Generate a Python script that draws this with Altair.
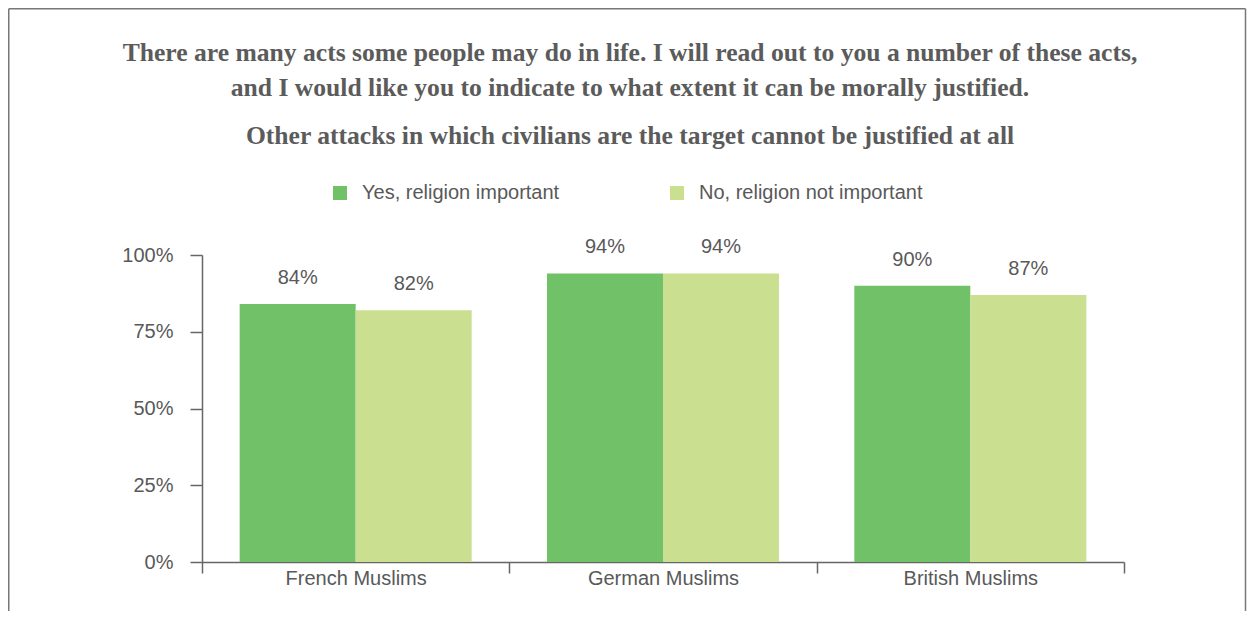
import altair as alt
import pandas as pd

countries = ["French Muslims", "German Muslims", "British Muslims"]
groups = ["Yes, religion important", "No, religion not important"]
yes_vals = [0.84, 0.94, 0.90]
no_vals = [0.82, 0.94, 0.87]
colors = ["#70c168", "#cadf8f"]

rows = []
for c, y, n in zip(countries, yes_vals, no_vals):
    rows.append({"country": c, "group": groups[0], "value": y})
    rows.append({"country": c, "group": groups[1], "value": n})
df = pd.DataFrame(rows)

TXT = "#595959"
SANS = "Liberation Sans"
SERIF = "Liberation Serif"
FS = 20

x = alt.X("country:N", sort=countries, title=None,
          scale=alt.Scale(paddingInner=0, paddingOuter=0),
          axis=alt.Axis(labelAngle=0, tickBand="extent", tickSize=11,
                        tickColor="#666", domainColor="#666", tickWidth=1.5,
                        domainWidth=1.5, labelFont=SANS, labelFontSize=FS,
                        labelColor=TXT, labelPadding=-5))
y = alt.Y("value:Q", title=None,
          scale=alt.Scale(domain=[0, 1], nice=False),
          axis=alt.Axis(values=[0, 0.25, 0.5, 0.75, 1], format=".0%", grid=False,
                        tickSize=12, tickColor="#666", domainColor="#666",
                        tickWidth=1.5, domainWidth=1.5, labelFont=SANS,
                        labelFontSize=FS, labelColor=TXT, labelPadding=17))

color = alt.Color("group:N", sort=groups,
                  scale=alt.Scale(domain=groups, range=colors),
                  legend=alt.Legend(title=None, orient="none", direction="horizontal",
                                    legendX=128, legendY=-72, symbolType="square",
                                    symbolSize=196, symbolStrokeWidth=0, labelLimit=400,
                                    labelFont=SANS, labelFontSize=FS,
                                    labelColor=TXT, labelOffset=12, columnPadding=107))

xoff = alt.XOffset("group:N", sort=groups,
                   scale=alt.Scale(paddingInner=0, paddingOuter=0.3245))

base = alt.Chart(df).encode(x=x, xOffset=xoff)

bars = base.mark_bar().encode(y=y, color=color)
labels = base.mark_text(dy=-26, font=SANS, fontSize=FS, color=TXT).encode(
    y=alt.Y("value:Q"), text=alt.Text("value:Q", format=".0%"))

frame = alt.Chart(alt.Data(values=[{}]))
left = frame.mark_rule(color="#777", strokeWidth=1.5).encode(
    x=alt.value(-193.25), y=alt.value(-246.25), y2=alt.value(400))
top = frame.mark_rule(color="#777", strokeWidth=1.5).encode(
    x=alt.value(-193.25), x2=alt.value(1043.5), y=alt.value(-246.25))
right = frame.mark_rule(color="#777", strokeWidth=1.5).encode(
    x=alt.value(1043.5), y=alt.value(-246.25), y2=alt.value(400))

chart = alt.layer(bars, labels, left, top, right).properties(
    width=922, height=307,
    autosize=alt.AutoSizeParams(type="none"),
    padding={"left": 194, "top": 247, "right": 123, "bottom": 49},
    title=alt.TitleParams(
        text=["There are many acts some people may do in life. I will read out to you a number of these acts,",
              "and I would like you to indicate to what extent it can be morally justified."],
        subtitle="Other attacks in which civilians are the target cannot be justified at all",
        anchor="middle", dx=-33, offset=-142, font=SERIF, fontSize=25.6, fontWeight="bold",
        color="#5b5b5b", lineHeight=35, subtitleFont=SERIF, subtitleFontSize=25.6,
        subtitleFontWeight="bold", subtitleColor="#5b5b5b", subtitlePadding=23,
    ),
).configure_view(stroke=None)

chart.save("out.html", embed_options={"renderer": "svg", "actions": False})
